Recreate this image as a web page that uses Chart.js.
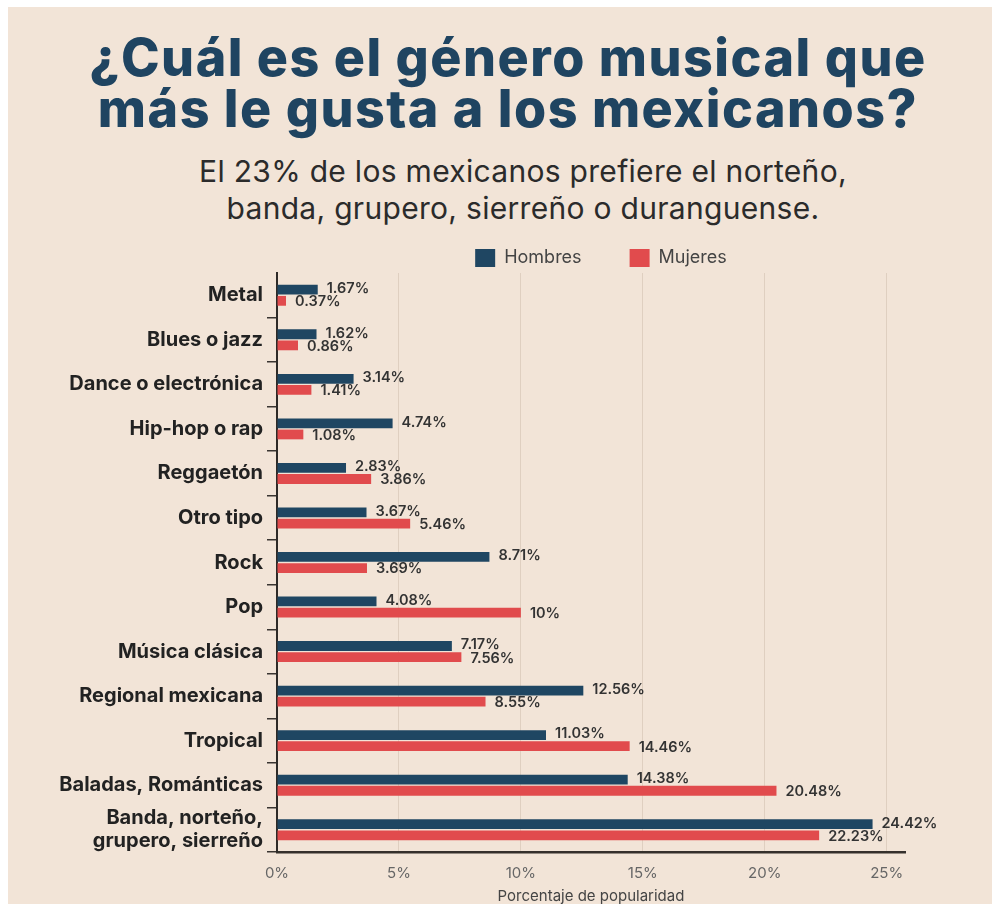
<!DOCTYPE html>
<html>
<head>
<meta charset="utf-8">
<script src="https://cdn.jsdelivr.net/npm/chart.js@4.4.1/dist/chart.umd.min.js"></script>
<style>
  html, body { margin: 0; padding: 0; background: #fff; overflow: hidden; }
  #card { position: absolute; left: 8px; top: 7px; width: 984px; height: 897px; background: #f2e4d7; overflow: hidden; font-family: Inter, "Noto Sans", sans-serif; }
  #title { position: absolute; left: 0; top: 25px; width: 1000px; margin: 0; text-align: center; font-size: 52px; line-height: 51px; font-weight: 800; color: #1f4461; letter-spacing: 1.5px; }
  #subtitle { position: absolute; left: 0; top: 146px; width: 1030px; margin: 0; text-align: center; font-size: 30px; line-height: 37px; font-weight: 400; color: #2b2b2b; letter-spacing: 0.3px; }
  #wrap { position: absolute; left: 0; top: 228px; width: 984px; height: 680px; }
</style>
</head>
<body>
<div id="card">
  <h1 id="title">¿Cuál es el género musical que<br>más le gusta a los mexicanos?</h1>
  <p id="subtitle">El 23% de los mexicanos prefiere el norteño,<br>banda, grupero, sierreño o duranguense.</p>
  <div id="wrap"><canvas id="chart"></canvas></div>
</div>
<script>
// data
var genres = [
  'Metal', 'Blues o jazz', 'Dance o electrónica', 'Hip-hop o rap', 'Reggaetón',
  'Otro tipo', 'Rock', 'Pop', 'Música clásica', 'Regional mexicana', 'Tropical',
  'Baladas, Románticas', ['Banda, norteño,', 'grupero, sierreño']
];
var hombres = [1.67, 1.62, 3.14, 4.74, 2.83, 3.67, 8.71, 4.08, 7.17, 12.56, 11.03, 14.38, 24.42];
var mujeres = [0.37, 0.86, 1.41, 1.08, 3.86, 5.46, 3.69, 10, 7.56, 8.55, 14.46, 20.48, 22.23];
var xTicks = [0, 5, 10, 15, 20, 25];

var navy = '#1f4662';
var red = '#e14b4d';

// value labels at the end of each bar
var barValues = {
  id: 'barValues',
  afterDatasetsDraw: function(chart) {
    var ctx = chart.ctx;
    ctx.save();
    ctx.font = '600 14.5px Inter, "Noto Sans", sans-serif';
    ctx.fillStyle = '#333';
    ctx.textAlign = 'left';
    ctx.textBaseline = 'middle';
    chart.data.datasets.forEach(function(ds, di) {
      chart.getDatasetMeta(di).data.forEach(function(bar, i) {
        ctx.fillText(ds.data[i] + '%', bar.x + 9, bar.y + (di === 0 ? -1 : 1));
      });
    });
    ctx.restore();
  }
};

// nudge the legend a little to the right, like the original
var legendNudge = {
  id: 'legendNudge',
  afterLayout: function(chart) {
    if (chart.legend) {
      chart.legend.left += 10;
      chart.legend.right += 10;
    }
  }
};

new Chart(document.getElementById('chart'), {
  type: 'bar',
  data: {
    labels: genres,
    datasets: [
      { label: 'Hombres', data: hombres, backgroundColor: navy },
      { label: 'Mujeres', data: mujeres, backgroundColor: red }
    ]
  },
  options: {
    indexAxis: 'y',
    responsive: true,
    maintainAspectRatio: false,
    animation: false,
    categoryPercentage: 0.5,
    barPercentage: 0.88,
    layout: { padding: { top: -34, right: 87, bottom: 0, left: 0 } },
    plugins: {
      tooltip: { enabled: false },
      legend: {
        position: 'top',
        fullSize: false,
        maxHeight: 72,
        labels: {
          boxWidth: 20,
          boxHeight: 18,
          padding: 48,
          color: '#444',
          font: { family: 'Inter, "Noto Sans", sans-serif', size: 18 }
        }
      }
    },
    scales: {
      x: {
        min: 0,
        max: 25.75,
        afterFit: function(s) { s.height = 63; },
        afterBuildTicks: function(s) { s.ticks = xTicks.map(function(v) { return { value: v }; }); },
        ticks: {
          padding: 12,
          color: '#666',
          font: { family: 'Inter, "Noto Sans", sans-serif', size: 15 },
          callback: function(v) { return v + '%'; }
        },
        grid: { color: 'rgba(190,170,150,0.35)', drawTicks: false },
        border: { color: '#35302c', width: 2.5 },
        title: {
          display: true,
          text: 'Porcentaje de popularidad',
          color: '#444',
          padding: { top: 0, bottom: 10 },
          font: { family: 'Inter, "Noto Sans", sans-serif', size: 15 }
        }
      },
      y: {
        afterFit: function(s) { s.width = 269; },
        ticks: {
          autoSkip: false,
          padding: 4,
          color: '#222',
          font: { family: 'Inter, "Noto Sans", sans-serif', size: 20, weight: '700', lineHeight: 1.15 }
        },
        grid: {
          offset: true,
          drawOnChartArea: false,
          drawTicks: true,
          tickLength: 10,
          lineWidth: 1.5,
          color: function(c) { return c.index === 0 ? 'rgba(0,0,0,0)' : '#3a3531'; }
        },
        border: { color: '#2e2a27', width: 2 }
      }
    }
  },
  plugins: [barValues, legendNudge]
});
</script>
</body>
</html>
